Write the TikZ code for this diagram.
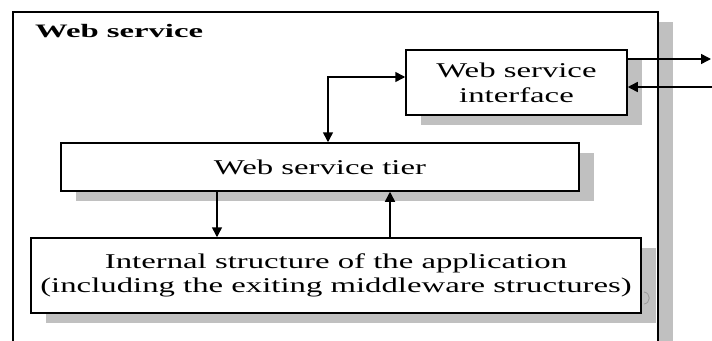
\documentclass[tikz,border=0pt]{standalone}
\usepackage{fontspec}
\setmainfont{Liberation Serif}
\newfontfamily\wsfont{Liberation Serif}[FakeStretch=1.56]
\newfontfamily\wstitle{Liberation Serif}[FakeStretch=1.72]
\usetikzlibrary{arrows.meta,shadows}
\definecolor{shade}{RGB}{192,192,192}

\begin{document}
\begin{tikzpicture}[x=1pt,y=-1pt,font=\wsfont\fontsize{21}{25}\selectfont,
 >={Triangle[length=10pt,width=10pt]},
 n/.style={draw,line width=1.5pt,fill=white,align=center,inner sep=0pt,
  drop shadow={shadow xshift=15pt,shadow yshift=-10pt,opacity=1,fill=shade}},
 line/.style={line width=1.5pt}]
\useasboundingbox (0,0) rectangle (712,340);
\clip (0,0) rectangle (712,340);
\node[n,minimum width=645pt,minimum height=350pt] (ws) at (335.5,187) {};
\node[font=\wstitle\bfseries\fontsize{19}{22}\selectfont,anchor=base west,inner sep=0pt] (title) at (35,37) {Web service};
\node[n,minimum width=221pt,minimum height=65pt] (iface) at (516.5,82.5) {Web service\\interface};
\node[n,minimum width=518pt,minimum height=48pt] (tier) at (320,167) {Web service tier};
\node[n,minimum width=610pt,minimum height=75pt,font=\wsfont\fontsize{21}{23.5}\selectfont] (int) at (336,275.5)
 {Internal structure of the application\\(including the exiting middleware structures)};
\coordinate (out) at (711,59);
\coordinate (in) at (712,87);
\draw[line,<->] (328,0 |- tier.north) |- ([yshift=5.5pt]iface.west);
\draw[line,->] (217,0 |- tier.south) -- (217,0 |- int.north);
\draw[line,->] (390,0 |- int.north) -- (390,0 |- tier.south);
\draw[line,->] (iface.east |- out) -- (out);
\draw[line,->] (in) -- (iface.east |- in);
\draw[shade!80!black,line width=0.8pt] (644,292) .. controls (651,293) and (651,303) .. (644,304);
\end{tikzpicture}
\end{document}
